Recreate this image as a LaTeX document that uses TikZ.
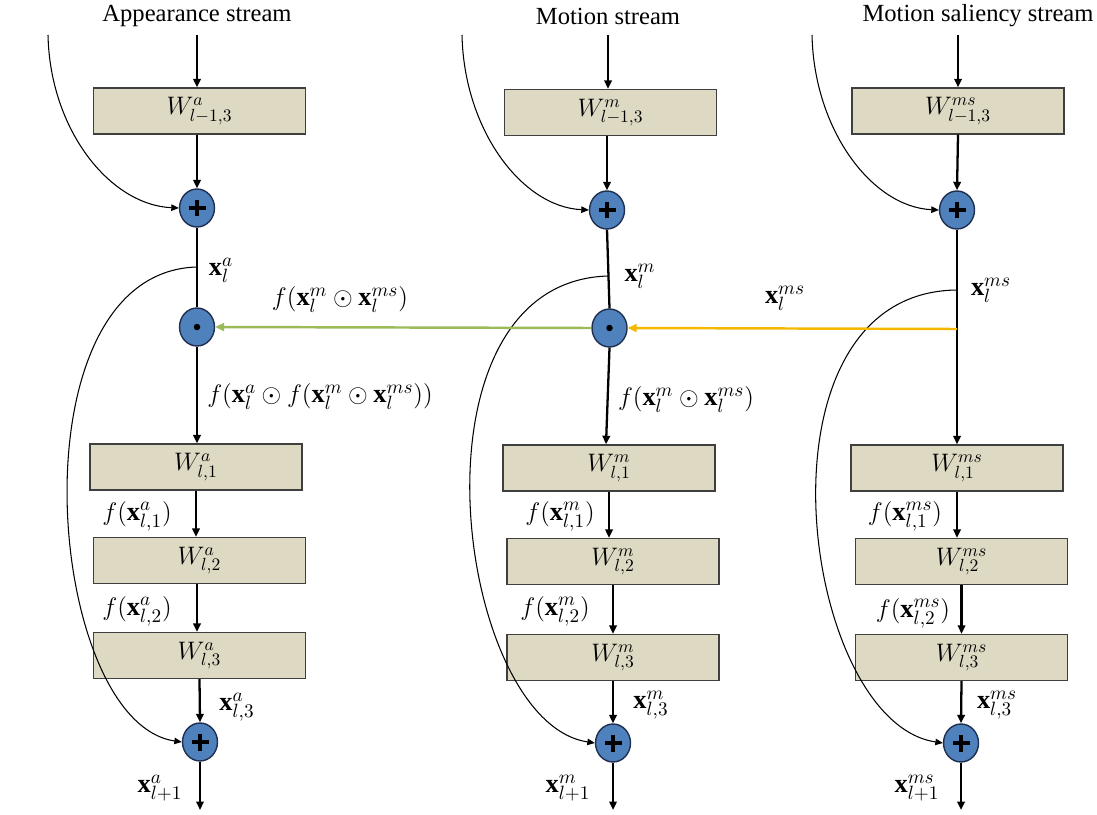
\documentclass[tikz,border=0pt]{standalone}
\usepackage{fontspec}
\setmainfont{Liberation Serif}
\usetikzlibrary{arrows.meta,shapes.geometric}
\definecolor{boxfill}{HTML}{DDD9C3}
\definecolor{boxline}{HTML}{3F3F3F}
\definecolor{opfill}{HTML}{4F81BD}
\definecolor{opline}{HTML}{1F2F4F}
\definecolor{gatecol}{HTML}{9BBB59}
\definecolor{salcol}{HTML}{F5B800}
\newcommand{\bx}{\mathbf{x}}
\begin{document}
\begin{tikzpicture}[x=0.02cm,y=-0.02cm,
  font=\fontsize{14}{16}\selectfont,
  tip/.style={-{Triangle[length=1.7mm,width=1.5mm]}},
  flow/.style={line width=1.3pt},
  skip/.style={line width=0.6pt,-{Triangle[length=1.5mm,width=1.3mm]}},
  wbox/.style={draw=boxline,fill=boxfill,line width=0.8pt,minimum width=4.24cm,minimum height=0.92cm,inner sep=0pt},
  opnode/.style={ellipse,draw=opline,fill=opfill,line width=0.8pt,minimum width=0.7cm,minimum height=0.76cm,inner sep=0pt},
  plusop/.style={opnode,path picture={
      \draw[black,line width=2pt]
        ([xshift=-0.17cm]path picture bounding box.center) -- ([xshift=0.17cm]path picture bounding box.center)
        ([yshift=-0.17cm]path picture bounding box.center) -- ([yshift=0.17cm]path picture bounding box.center);}},
  dotop/.style={opnode,path picture={
      \fill[black] (path picture bounding box.center) circle (0.065cm);}},
  title/.style={inner sep=0pt},
  lbl/.style={inner sep=0pt,font=\fontsize{15}{17}\selectfont}]
\useasboundingbox (0,0) rectangle (1097,814);

% stream titles
\node[title] (ta) at (197,16) {Appearance stream};
\node[title] (tm) at (608,16) {Motion stream};
\node[title] (ts) at (978,16) {Motion saliency stream};

% ---------------- appearance stream ----------------
\coordinate (ain) at (197,35);
\coordinate (askin) at (48,35);
\node[wbox] (a0) at (199.5,111) {$W^{a}_{l-1,3}$};
\node[plusop] (ap1) at (197,208) {};
\node[dotop] (ad) at (197,327) {};
\node[wbox] (a1) at (196,467) {$W^{a}_{l,1}$};
\node[wbox] (a2) at (199.5,560.5) {$W^{a}_{l,2}$};
\node[wbox] (a3) at (199.5,655.5) {$W^{a}_{l,3}$};
\node[plusop] (ap2) at (200,742) {};
\coordinate (aout) at (200,810);
\coordinate (abr) at (197,267);

\draw[flow,tip] (ain) -- (ain |- a0.north);
\draw[flow,tip] (ap1.north |- a0.south) -- (ap1.north);
\draw[skip] (askin) .. controls (50,130) and (110,205) .. (ap1.west);
\draw[flow] (ap1.south) -- (ad.north);
\draw[flow,tip] (ad.south) -- (ad.south |- a1.north);
\draw[flow,tip] (a1.south) -- (a1.south |- a2.north);
\draw[flow,tip] ([xshift=-0.05cm]a2.south) -- ([xshift=-0.05cm]a2.south |- a3.north);
\draw[flow,tip] (a3.south) -- (ap2.north);
\draw[flow,tip] (ap2.south) -- (aout);
\draw[skip] (abr) .. controls (10,272) and (45,722) .. (ap2.west);

\node[lbl] (la) at (221,270) {$\bx_l^{a}$};
\node[lbl] (lg) at (340,300) {$f(\bx_l^{m}\odot\bx_l^{ms})$};
\node[lbl] (lam) at (320,397) {$f(\bx_l^{a}\odot f(\bx_l^{m}\odot\bx_l^{ms}))$};
\node[lbl] (la1) at (137,516) {$f(\bx_{l,1}^{a})$};
\node[lbl] (la2) at (137,611) {$f(\bx_{l,2}^{a})$};
\node[lbl] (la3) at (237,707) {$\bx_{l,3}^{a}$};
\node[lbl] (la4) at (160,788) {$\bx_{l+1}^{a}$};

% ---------------- motion stream ----------------
\coordinate (min) at (608,35);
\coordinate (mskin) at (462,35);
\node[wbox] (m0) at (610.5,112.5) {$W^{m}_{l-1,3}$};
\node[plusop] (mp1) at (607,210) {};
\node[dotop] (md) at (609.5,328) {};
\node[wbox] (m1) at (609,468) {$W^{m}_{l,1}$};
\node[wbox] (m2) at (613,561.5) {$W^{m}_{l,2}$};
\node[wbox] (m3) at (613,657.5) {$W^{m}_{l,3}$};
\node[plusop] (mp2) at (613,743) {};
\coordinate (mout) at (613,810);
\coordinate (mbr) at (608,276);

\draw[flow,tip] (min) -- (min |- m0.north);
\draw[flow,tip] (mp1.north |- m0.south) -- (mp1.north);
\draw[skip] (mskin) .. controls (464,130) and (522,207) .. (mp1.west);
\draw[flow] (mp1.south) -- (md.north);
\draw[flow,tip] (md.south) -- ([xshift=-0.06cm]m1.north);
\draw[flow,tip] (m1.south) -- (m1.south |- m2.north);
\draw[flow,tip] (m2.south) -- (m2.south |- m3.north);
\draw[flow,tip] (m3.south) -- (mp2.north);
\draw[flow,tip] (mp2.south) -- (mout);
\draw[skip] (mbr) .. controls (400,282) and (455,722) .. (mp2.west);

\node[lbl] (lm) at (640,276) {$\bx_l^{m}$};
\node[lbl] (lmm) at (686,400) {$f(\bx_l^{m}\odot\bx_l^{ms})$};
\node[lbl] (lm1) at (560,516) {$f(\bx_{l,1}^{m})$};
\node[lbl] (lm2) at (555,611) {$f(\bx_{l,2}^{m})$};
\node[lbl] (lm3) at (651,705) {$\bx_{l,3}^{m}$};
\node[lbl] (lm4) at (568,788) {$\bx_{l+1}^{m}$};

% ---------------- motion saliency stream ----------------
\coordinate (sin) at (958,35);
\coordinate (sskin) at (812,35);
\node[wbox] (s0) at (958,111) {$W^{ms}_{l-1,3}$};
\node[plusop] (sp1) at (957,210) {};
\node[wbox] (s1) at (957,468) {$W^{ms}_{l,1}$};
\node[wbox] (s2) at (961.5,561.5) {$W^{ms}_{l,2}$};
\node[wbox] (s3) at (961.5,657.5) {$W^{ms}_{l,3}$};
\node[plusop] (sp2) at (961,743) {};
\coordinate (sout) at (961,810);
\coordinate (sbr) at (957,290);
\coordinate (sgate) at (957,329);

\draw[flow,tip] (sin) -- (s0.north);
\draw[flow,tip] (s0.south) -- (sp1.north);
\draw[skip] (sskin) .. controls (814,130) and (872,207) .. (sp1.west);
\draw[flow,tip] (sp1.south) -- (s1.north);
\draw[flow,tip] (s1.south) -- (s1.south |- s2.north);
\draw[flow,tip] (s2.south) -- (s2.south |- s3.north);
\draw[flow,tip] (s3.south) -- (sp2.north);
\draw[flow,tip] (sp2.south) -- (sout);
\draw[skip] (sbr) .. controls (745,292) and (800,722) .. (sp2.west);

\node[lbl] (ls) at (991,290) {$\bx_l^{ms}$};
\node[lbl] (lsy) at (785,298) {$\bx_l^{ms}$};
\node[lbl] (ls1) at (905,516) {$f(\bx_{l,1}^{ms})$};
\node[lbl] (ls2) at (913,613) {$f(\bx_{l,2}^{ms})$};
\node[lbl] (ls3) at (997,705) {$\bx_{l,3}^{ms}$};
\node[lbl] (ls4) at (917,788) {$\bx_{l+1}^{ms}$};

% ---------------- cross-stream gating ----------------
\draw[line width=1.4pt,salcol,-{Triangle[length=1.8mm,width=1.6mm]}] (sgate) -- (md.east);
\draw[line width=1.4pt,gatecol,-{Triangle[length=1.8mm,width=1.6mm]}] (md.west) -- (ad.east);
\end{tikzpicture}
\end{document}
